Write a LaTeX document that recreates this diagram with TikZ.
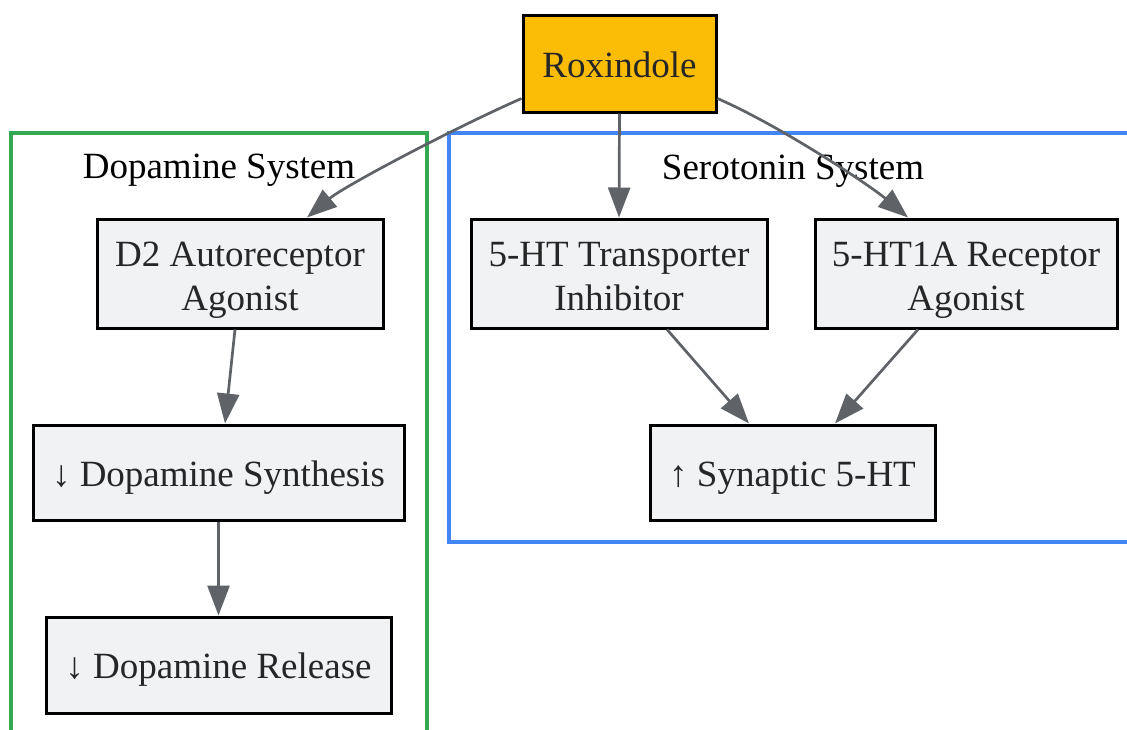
\documentclass[tikz,border=0pt]{standalone}
\usepackage{fontspec}
\setmainfont{Liberation Serif}
\usetikzlibrary{arrows.meta,calc}
\definecolor{boxfill}{HTML}{F1F2F4}
\definecolor{roxfill}{HTML}{FABC05}
\definecolor{txtcol}{HTML}{262626}
\definecolor{edgecol}{HTML}{5F6368}
\definecolor{dopcol}{HTML}{34A853}
\definecolor{sercol}{HTML}{4285F4}
\tikzset{
  box/.style={draw=black, line width=3pt, fill=boxfill, text=txtcol, inner sep=0pt,
    font=\fontsize{37}{43.3}\selectfont, align=center},
  onebox/.style={box, text height=27pt, text depth=0pt},
  twobox/.style={box, text height=73pt, text depth=0pt},
  edge/.style={draw=edgecol, line width=2.7pt, -{Triangle[length=30pt,width=22pt]}},
  cluster/.style={line width=3.2pt},
  clusterlabel/.style={anchor=base, text=black, inner sep=0pt, font=\fontsize{37}{43}\selectfont}
}
\begin{document}
\begin{tikzpicture}[x=1pt,y=-1pt]
\useasboundingbox (0,0) rectangle (1127,729);
\begin{scope}
\clip (0,0) rectangle (1127,729);
\draw[cluster, draw=dopcol] (11,133) rectangle (427,760);
\draw[cluster, draw=sercol] (449,133) rectangle (1160,542);
\end{scope}
\node[clusterlabel] (doplab) at (219,178.5) {Dopamine System};
\node[clusterlabel] (serlab) at (793,179) {Serotonin System};

\node[onebox, fill=roxfill, minimum width=193pt, minimum height=97pt] (rox) at (619.5,63.5) {Roxindole};
\node[twobox, minimum width=286pt, minimum height=109pt] (d2) at (240,273.5) {D2 Autoreceptor\\Agonist};
\node[onebox, minimum width=371pt, minimum height=95pt] (syn) at (218.5,472.5) {↓ Dopamine Synthesis};
\node[onebox, minimum width=345pt, minimum height=96pt] (rel) at (218.5,665) {↓ Dopamine Release};
\node[twobox, minimum width=296pt, minimum height=109pt] (tr) at (619,273.5) {5-HT Transporter\\Inhibitor};
\node[twobox, minimum width=302pt, minimum height=109pt] (r1a) at (966,273.5) {5-HT1A Receptor\\Agonist};
\node[onebox, minimum width=285pt, minimum height=95pt] (s5) at (792.5,472.5) {↑ Synaptic 5-HT};

\draw[edge] ($(rox.south west)+(0,-15)$) .. controls +(-64,28) and +(38,-32) .. ($(d2.north)+(67,0)$);
\draw[edge] (rox.south) -- (tr.north);
\draw[edge] ($(rox.south east)+(0,-15)$) .. controls +(64,28) and +(-38,-32) .. ($(r1a.north)+(-58,0)$);
\draw[edge] ($(d2.south)+(-5,0)$) -- ($(syn.north)+(6.5,0)$);
\draw[edge] (syn.south) -- (rel.north);
\draw[edge] ($(tr.south)+(48,0)$) -- ($(s5.north)+(-43.5,0)$);
\draw[edge] ($(r1a.south)+(-48,0)$) -- ($(s5.north)+(42.5,0)$);
\end{tikzpicture}
\end{document}
